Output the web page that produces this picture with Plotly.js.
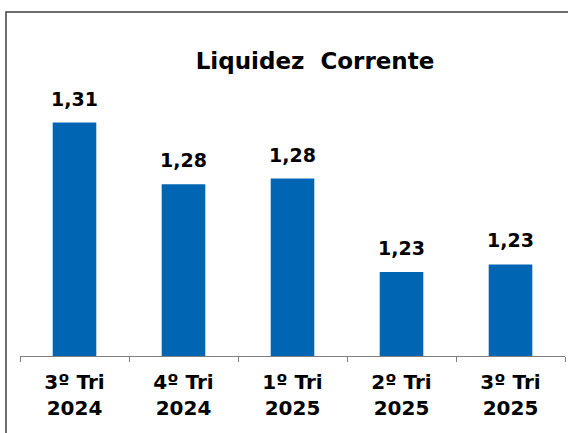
<!DOCTYPE html>
<html>
<head>
<meta charset="utf-8">
<script src="https://cdn.plot.ly/plotly-3.0.1.min.js"></script>
<style>html,body{margin:0;padding:0;background:#fff;}#chart{width:568px;height:433px;}</style>
</head>
<body>
<div id="chart"></div>
<script>
// Data
var categories = ["3º Tri<br>2024", "4º Tri<br>2024", "1º Tri<br>2025", "2º Tri<br>2025", "3º Tri<br>2025"];
var values = [1.31, 1.277, 1.28, 1.23, 1.234];
var valueLabels = ["1,31", "1,28", "1,28", "1,23", "1,23"];
var chartTitle = "Liquidez  Corrente";

var FONT = "Verdana, 'DejaVu Sans', sans-serif";

var trace = {
  type: "bar",
  x: categories,
  y: values,
  marker: {color: "#0066b3"},
  width: 0.4,
  hoverinfo: "skip"
};

var annotations = categories.map(function (c, i) {
  return {
    x: c, y: values[i], xref: "x", yref: "y",
    text: "<b>" + valueLabels[i] + "</b>",
    showarrow: false, yanchor: "bottom", yshift: 11,
    font: {family: FONT, size: 19, color: "#000"}
  };
});

var layout = {
  width: 568, height: 433,
  margin: {l: 20, r: 3, t: 60, b: 77},
  paper_bgcolor: "#fff", plot_bgcolor: "#fff",
  showlegend: false,
  title: {
    text: "<b>" + chartTitle + "</b>",
    font: {family: FONT, size: 23, color: "#000"},
    x: 315 / 568, xref: "container", xanchor: "center",
    y: 1 - 61 / 433, yref: "container", yanchor: "middle"
  },
  xaxis: {
    type: "category",
    showline: true, linecolor: "#808080", linewidth: 1,
    ticks: "outside", tickson: "boundaries", ticklen: 5, tickcolor: "#808080",
    ticklabelstandoff: 8,
    tickfont: {family: FONT, size: 20, color: "#000", weight: "bold"},
    showgrid: false, zeroline: false, fixedrange: true
  },
  yaxis: {
    range: [1.185, 1.3435],
    visible: false, showgrid: false, zeroline: false, fixedrange: true
  },
  bargap: 0.6,
  annotations: annotations,
  shapes: [{
    type: "rect", xref: "paper", yref: "paper",
    x0: (6 - 20) / 545, x1: 1.2, y0: -0.5, y1: (356 - 12) / 296,
    line: {color: "#404040", width: 1.5}, fillcolor: "rgba(0,0,0,0)", layer: "below"
  }]
};

Plotly.newPlot("chart", [trace], layout, {displayModeBar: false, staticPlot: true});
</script>
</body>
</html>
